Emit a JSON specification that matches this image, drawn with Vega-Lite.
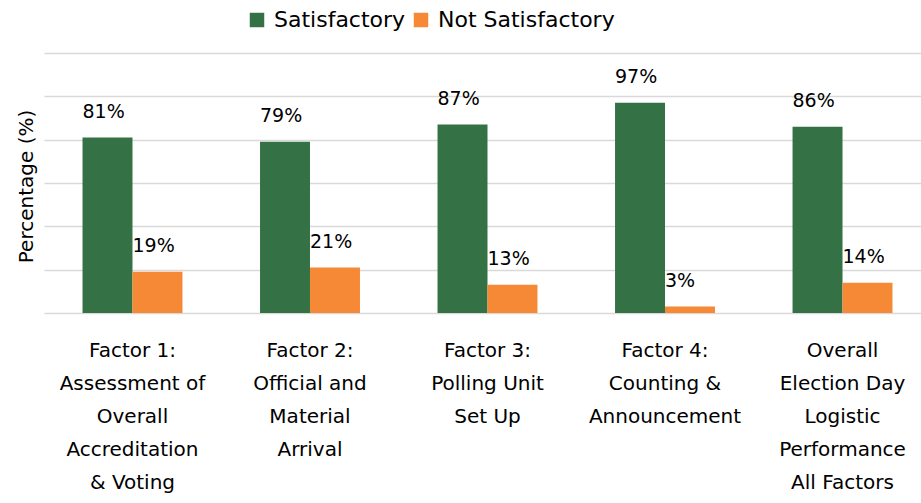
{
  "$schema": "https://vega.github.io/schema/vega-lite/v6.json",
  "autosize": {"type": "none"},
  "padding": {"left": 44, "top": 53, "right": 0, "bottom": 190},
  "width": 877,
  "height": 260,
  "background": "white",
  "config": {
    "view": {"stroke": null},
    "font": "DejaVu Sans"
  },
  "data": {
    "values": [
      {"factor": "Factor 1:|Assessment of|Overall|Accreditation|& Voting", "status": "Satisfactory", "value": 0.81},
      {"factor": "Factor 1:|Assessment of|Overall|Accreditation|& Voting", "status": "Not Satisfactory", "value": 0.19},
      {"factor": "Factor 2:|Official and|Material|Arrival", "status": "Satisfactory", "value": 0.79},
      {"factor": "Factor 2:|Official and|Material|Arrival", "status": "Not Satisfactory", "value": 0.21},
      {"factor": "Factor 3:|Polling Unit|Set Up", "status": "Satisfactory", "value": 0.87},
      {"factor": "Factor 3:|Polling Unit|Set Up", "status": "Not Satisfactory", "value": 0.13},
      {"factor": "Factor 4:|Counting &|Announcement", "status": "Satisfactory", "value": 0.97},
      {"factor": "Factor 4:|Counting &|Announcement", "status": "Not Satisfactory", "value": 0.03},
      {"factor": "Overall|Election Day|Logistic|Performance|All Factors", "status": "Satisfactory", "value": 0.86},
      {"factor": "Overall|Election Day|Logistic|Performance|All Factors", "status": "Not Satisfactory", "value": 0.14}
    ]
  },
  "encoding": {
    "x": {
      "field": "factor",
      "type": "nominal",
      "sort": null,
      "scale": {"range": [0, 887], "paddingInner": 0.437, "paddingOuter": 0.217},
      "axis": {
        "title": null,
        "labelAngle": 0,
        "labelExpr": "split(datum.label, '|')",
        "labelFont": "DejaVu Sans",
        "labelFontSize": 20,
        "labelLineHeight": 33,
        "labelColor": "#000000",
        "labelBaseline": "alphabetic",
        "labelPadding": 43,
        "labelLimit": 300,
        "ticks": false,
        "domain": false
      }
    },
    "xOffset": {
      "field": "status",
      "type": "nominal",
      "sort": ["Satisfactory", "Not Satisfactory"],
      "scale": {"paddingInner": 0, "paddingOuter": 0}
    },
    "y": {
      "field": "value",
      "type": "quantitative",
      "scale": {"domain": [0, 1.2], "nice": false},
      "axis": {
        "title": "Percentage (%)",
        "titleFont": "DejaVu Sans",
        "titleFontSize": 20,
        "titleFontWeight": "normal",
        "titleColor": "#000000",
        "titlePadding": 8,
        "titleY": 133,
        "values": [0, 0.2, 0.4, 0.6, 0.8, 1.0, 1.2],
        "labels": false,
        "ticks": false,
        "domain": false,
        "grid": true,
        "gridColor": "#d9d9d9",
        "gridWidth": 1.5
      }
    }
  },
  "layer": [
    {
      "mark": {"type": "bar"},
      "encoding": {
        "color": {
          "field": "status",
          "type": "nominal",
          "sort": ["Satisfactory", "Not Satisfactory"],
          "scale": {"domain": ["Satisfactory", "Not Satisfactory"], "range": ["#347246", "#f58936"]},
          "legend": {
            "title": null,
            "orient": "none",
            "direction": "horizontal",
            "legendX": 202,
            "legendY": -44,
            "symbolType": "square",
            "symbolSize": 210,
            "symbolStrokeWidth": 0,
            "labelFont": "DejaVu Sans",
            "labelFontSize": 22,
            "labelColor": "#000000",
            "labelOffset": 6,
            "columnPadding": 4,
            "labelLimit": 300
          }
        }
      }
    },
    {
      "mark": {"type": "text", "align": "left", "baseline": "alphabetic", "dx": -25, "dy": -20, "fontSize": 19, "font": "DejaVu Sans", "color": "#000000"},
      "encoding": {
        "text": {"field": "value", "type": "quantitative", "format": ".0%"}
      }
    }
  ]
}
